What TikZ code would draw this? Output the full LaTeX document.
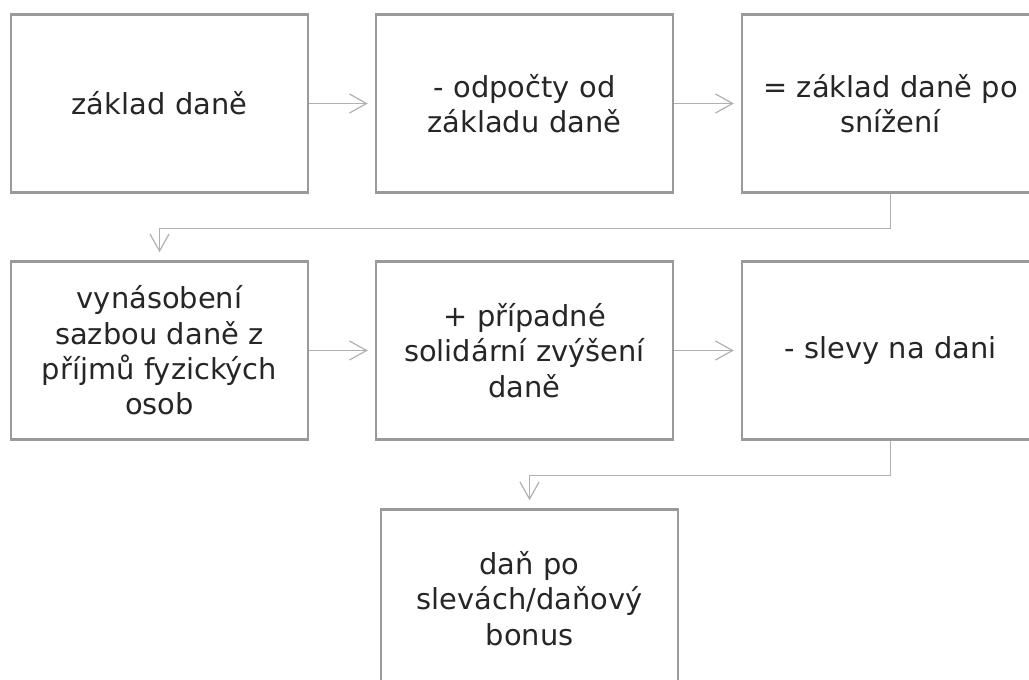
\documentclass[tikz,border=0pt]{standalone}
\usepackage{fontspec}
\setmainfont{DejaVu Sans}
\usetikzlibrary{arrows.meta}
\definecolor{boxgray}{HTML}{9A9A9A}
\definecolor{linkgray}{HTML}{B0B0B0}
\definecolor{textdark}{HTML}{262626}
\begin{document}
\begin{tikzpicture}[x=1bp,y=-1bp,
  stepbox/.style={draw=boxgray, line width=2.5bp, fill=white,
    minimum width=297bp, minimum height=178bp, inner sep=0pt,
    text width=285bp, align=center, text=textdark,
    font=\fontsize{29}{35.5}\selectfont},
  link/.style={draw=linkgray, line width=1.2bp,
    -{Straight Barb[length=17bp,width=19bp]}}]
\useasboundingbox (0,0) rectangle (1029,680);
\clip (0,0) rectangle (1029,680);

% first row
\node[stepbox] (b1) at (159.5,103.5) {základ daně};
\node[stepbox] (b2) at (524.5,103.5) {- odpočty od\\základu daně};
\node[stepbox] (b3) at (890.5,103.5) {= základ daně po\\snížení};

% second row
\node[stepbox] (b4) at (159.5,350.5) {vynásobení\\sazbou daně z\\příjmů fyzických\\osob};
\node[stepbox] (b5) at (524.5,350.5) {+ případné\\solidární zvýšení\\daně};
\node[stepbox] (b6) at (890.5,350.5) {- slevy na dani};

% result
\node[stepbox] (b7) at (529.5,598.5) {daň po\\slevách/daňový\\bonus};

% connectors
\draw[link, shorten >=7bp] (b1.east) -- (b2.west);
\draw[link, shorten >=7bp] (b2.east) -- (b3.west);
\draw[link, shorten >=7bp] (b4.east) -- (b5.west);
\draw[link, shorten >=7bp] (b5.east) -- (b6.west);
\draw[link, shorten >=8bp] (b3.south) -- ++(0,35) -| (b4.north);
\draw[link, shorten >=8bp] (b6.south) -- ++(0,35) -| (b7.north);
\end{tikzpicture}
\end{document}
